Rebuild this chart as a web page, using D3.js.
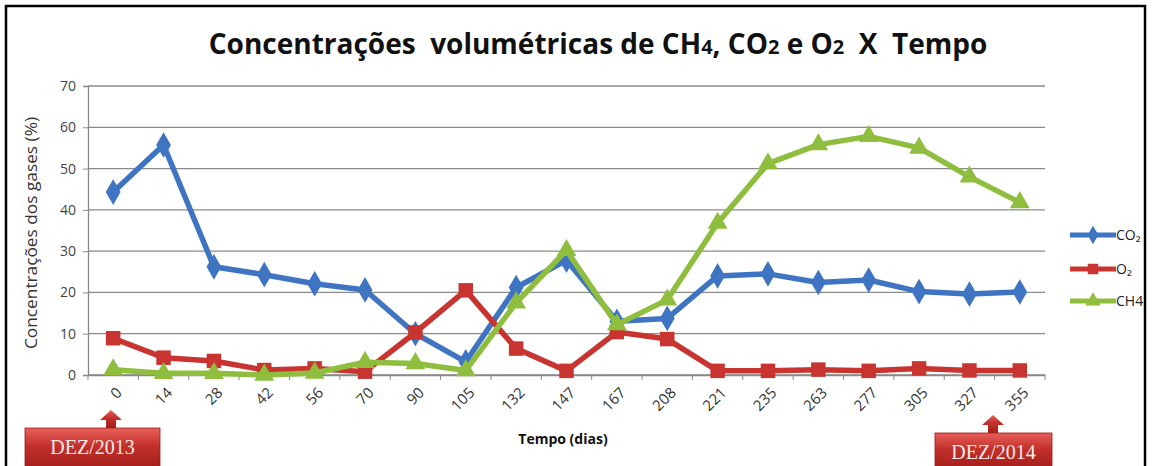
<!DOCTYPE html>
<html><head><meta charset="utf-8">
<script src="https://cdn.jsdelivr.net/npm/d3@7"></script>
<style>
html,body{margin:0;padding:0;background:#fff;}
svg{display:block;}
text{font-family:"Open Sans","Noto Sans",sans-serif;}
</style></head>
<body>
<svg id="c" width="1152" height="466"></svg>
<script>
const days = ["0","14","28","42","56","70","90","105","132","147","167","208","221","235","263","277","305","327","355"];
const co2 = [44.3, 55.7, 26.2, 24.3, 22.1, 20.6, 10.0, 3.2, 21.2, 27.8, 13.0, 13.7, 24.0, 24.5, 22.4, 23.0, 20.2, 19.6, 20.1];
const o2  = [8.9, 4.2, 3.4, 1.2, 1.6, 0.8, 10.3, 20.5, 6.4, 1.0, 10.4, 8.7, 1.0, 1.0, 1.3, 1.0, 1.6, 1.1, 1.1];
const ch4 = [1.3, 0.4, 0.4, 0.0, 0.5, 3.1, 2.8, 1.1, 17.5, 30.2, 12.2, 18.2, 36.8, 51.2, 55.8, 57.8, 55.0, 48.0, 41.8];
const yTicks = [0,10,20,30,40,50,60,70];
const seriesNames = ["CO\u2082","O\u2082","CH4"];
const colors = ["#3f74c2","#c8342f","#8fbe3e"];
const markers = [d3.symbolDiamond, d3.symbolSquare, d3.symbolTriangle];
const seriesData = [co2, o2, ch4];

const svg = d3.select("#c");
svg.append("rect").attr("x",6).attr("y",6).attr("width",1139).attr("height",470)
  .attr("fill","none").attr("stroke","#000").attr("stroke-width",2.5);

const L=88, R=1045, T=86, B=375;
const x = d3.scaleBand().domain(days).range([L,R]);
const y = d3.scaleLinear().domain([0,70]).range([B,T]);

// title
const title = svg.append("text").attr("x",598).attr("y",54).attr("text-anchor","middle")
  .attr("font-size",28).attr("font-weight","bold").attr("fill","#111")
  .style("white-space","pre").attr("xml:space","preserve");
title.append("tspan").text("Concentrações  volumétricas de CH");
title.append("tspan").attr("font-size",20).text("4");
title.append("tspan").text(", CO");
title.append("tspan").attr("font-size",20).text("2");
title.append("tspan").text(" e O");
title.append("tspan").attr("font-size",20).text("2");
title.append("tspan").text("  X  Tempo");

// gridlines
svg.append("g").selectAll("line").data(yTicks).join("line")
  .attr("x1",L).attr("x2",R).attr("y1",d=>y(d)).attr("y2",d=>y(d))
  .attr("stroke","#8a8a8a").attr("stroke-width",1.3);

// y axis
const ya = svg.append("g").attr("transform",`translate(${L},0)`)
  .call(d3.axisLeft(y).tickValues(yTicks).tickSize(5).tickPadding(7));
ya.select(".domain").attr("stroke","#888").attr("stroke-width",1.3);
ya.selectAll(".tick line").attr("stroke","#888");
ya.selectAll("text").attr("font-size",14).attr("fill","#444");

// x axis
const xa = svg.append("g").attr("transform",`translate(0,${B})`)
  .call(d3.axisBottom(x).tickSize(0).tickFormat(""));
xa.select(".domain").attr("stroke","#888").attr("stroke-width",1.3);
const bounds = days.map(d=>x(d)).concat([R]);
xa.selectAll(".bline").data(bounds).join("line").attr("class","bline")
  .attr("x1",d=>d).attr("x2",d=>d).attr("y1",0).attr("y2",5).attr("stroke","#888");
const xl = svg.append("g").selectAll("g").data(days).join("g")
  .attr("transform",d=>`translate(${x(d)+x.bandwidth()/2+6},${B+15})`);
xl.append("text").attr("font-size",15).attr("fill","#333").attr("text-anchor","end").attr("dy","0.35em")
  .attr("transform","rotate(-45)").text(d=>d);

// axis titles
svg.append("text").attr("transform","translate(37,233) rotate(-90)").attr("text-anchor","middle")
  .attr("font-size",15.5).attr("fill","#333").attr("textLength",232).attr("lengthAdjust","spacingAndGlyphs")
  .text("Concentrações dos gases (%)");
svg.append("text").attr("x",563).attr("y",444).attr("text-anchor","middle")
  .attr("font-size",14).attr("font-weight","bold").attr("fill","#111").text("Tempo (dias)");

// series
const line = d3.line().x((d,i)=>x(days[i])+x.bandwidth()/2).y(d=>y(d));
seriesData.forEach((s,k)=>{
  const g = svg.append("g");
  g.append("path").datum(s).attr("d",line).attr("fill","none")
    .attr("stroke",colors[k]).attr("stroke-width",5.5).attr("stroke-linejoin","round");
  g.selectAll("path.m").data(s).join("path").attr("class","m")
    .attr("d",d3.symbol().type(markers[k]).size(k===1?210:(k===0?190:170)))
    .attr("transform",(d,i)=>`translate(${x(days[i])+x.bandwidth()/2},${y(d)})`)
    .attr("fill",colors[k]);
});

// legend
const legY = [235,269,301];
seriesNames.forEach((n,k)=>{
  const g = svg.append("g").attr("transform",`translate(1070,${legY[k]})`);
  g.append("line").attr("x1",0).attr("x2",46).attr("stroke",colors[k]).attr("stroke-width",5);
  g.append("path").attr("d",d3.symbol().type(markers[k]).size(k===1?110:100))
    .attr("transform","translate(23,0)").attr("fill",colors[k]);
  g.append("text").attr("x",46).attr("y",5).attr("font-size",14).attr("fill","#222").text(n);
});

// DEZ annotations
const defs = svg.append("defs");
const grad = defs.append("linearGradient").attr("id","rg").attr("x1",0).attr("y1",0).attr("x2",0).attr("y2",1);
grad.append("stop").attr("offset","0%").attr("stop-color","#e8605a");
grad.append("stop").attr("offset","45%").attr("stop-color","#c3302b");
grad.append("stop").attr("offset","100%").attr("stop-color","#a41f1c");
const notes = [{label:"DEZ/2013", bx:25, bw:135, by:428, ax:111},
               {label:"DEZ/2014", bx:935, bw:117, by:433, ax:993}];
notes.forEach(n=>{
  const g = svg.append("g");
  const tipY = n.by-18;
  g.append("path").attr("d",`M${n.ax},${tipY} L${n.ax+11},${tipY+10} L${n.ax+5},${tipY+10} L${n.ax+5},${n.by} L${n.ax-5},${n.by} L${n.ax-5},${tipY+10} L${n.ax-11},${tipY+10} Z`)
    .attr("fill","url(#rg)");
  g.append("rect").attr("x",n.bx).attr("y",n.by).attr("width",n.bw).attr("height",466-n.by+2)
    .attr("fill","url(#rg)").attr("stroke","#9c1c1a").attr("stroke-width",0.8);
  g.append("text").attr("x",n.bx+n.bw/2).attr("y",n.by+26).attr("text-anchor","middle")
    .attr("font-size",20).attr("fill","#fbeaea").style("font-family","'Liberation Serif',serif").text(n.label);
});
</script>
</body></html>
